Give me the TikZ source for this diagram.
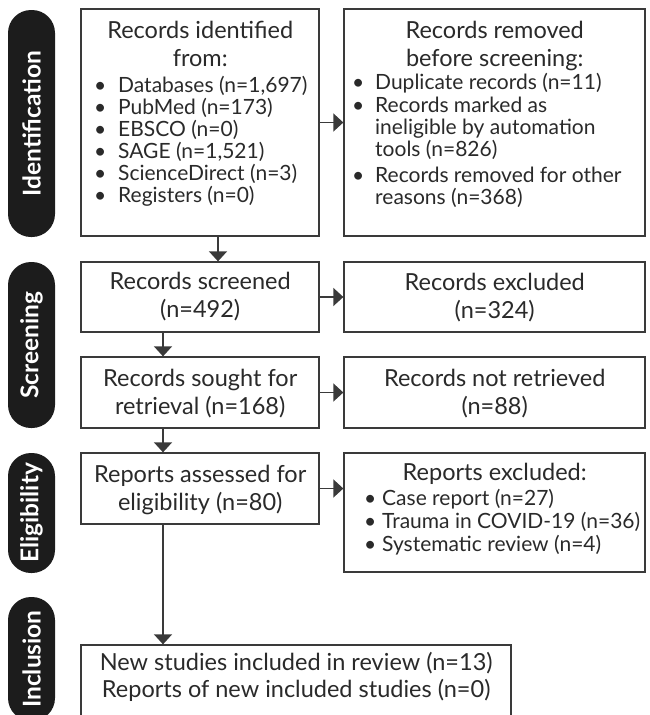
\documentclass[tikz,border=0pt]{standalone}
\usepackage{fontspec}
\setmainfont{Lato}
\usetikzlibrary{arrows.meta}
\definecolor{txt}{HTML}{2A2A2A}
\definecolor{edge}{HTML}{3A3A3A}
\definecolor{pillc}{HTML}{1C1C1C}
\newlength\bulc
\newlength\bulw
\newcommand\bul[1]{\noindent\hangindent=\bulw\hangafter=1\makebox[\bulw][l]{\hspace{\bulc}\makebox[0pt][c]{•}}#1\par}
\tikzset{
  box/.style={draw=edge, line width=1.3pt, fill=white, inner sep=0pt},
  pill/.style={fill=pillc, rounded corners=23pt, rotate=90, text=white, inner sep=0pt,
    minimum height=47pt, font=\bfseries\fontsize{24.5}{26}\selectfont},
  txtnode/.style={inner sep=0pt, text=txt, anchor=base west},
  arr/.style={draw=edge, line width=1.3pt, -{Triangle[width=18pt,length=10pt]}}
}
\newcommand\fs{\fontsize{21}{22}\selectfont}
\newcommand\tfs{\fontsize{23.5}{28.5}\selectfont}
\begin{document}
\begin{tikzpicture}[x=1pt,y=-1pt]
\useasboundingbox (0,0) rectangle (649,715);
\clip (0,0) rectangle (649,715);
% side labels
\node[pill, minimum width=227pt] (p1) at (31.5,123.5) {Identification};
\node[pill, minimum width=166pt] (p2) at (31.5,345) {Screening};
\node[pill, minimum width=120pt] (p3) at (31.5,513) {Eligibility};
\node[pill, minimum width=124pt] (p4) at (31.5,659) {Inclusion};
% boxes
\node[box, minimum width=238pt, minimum height=227pt] (b1) at (200,122.5) {};
\node[box, minimum width=301pt, minimum height=227pt] (b2) at (494.5,122.5) {};
\node[box, minimum width=238pt, minimum height=70pt] (s1) at (200,297) {};
\node[box, minimum width=301pt, minimum height=70pt] (s2) at (494.5,297) {};
\node[box, minimum width=238pt, minimum height=71pt] (r1) at (200,392.5) {};
\node[box, minimum width=301pt, minimum height=71pt] (r2) at (494.5,392.5) {};
\node[box, minimum width=238pt, minimum height=71pt] (e1) at (200,488.5) {};
\node[box, minimum width=301pt, minimum height=119pt] (e2) at (494.5,512.5) {};
\node[box, minimum width=430pt, minimum height=80pt] (n1) at (296,685) {};
% texts
\node[txtnode] (t1) at (81,38) {\parbox[t]{238pt}{{\tfs\centering Records identified\\ from:\par}\fs\vspace{4pt}\raggedright
  \setlength\bulc{19pt}\setlength\bulw{37pt}%
  \bul{Databases (n=1,697)}\bul{PubMed (n=173)}\bul{EBSCO (n=0)}\bul{SAGE (n=1,521)}\bul{ScienceDirect (n=3)}\bul{Registers (n=0)}}};
\node[txtnode] (t2) at (344,38) {\parbox[t]{301pt}{{\tfs\centering Records removed\\ before screening:\par}\fs\vspace{1pt}\raggedright
  \setlength\bulc{14pt}\setlength\bulw{31pt}%
  \bul{Duplicate records (n=11)}\vspace{1pt}\bul{Records marked as\newline ineligible by automation\newline tools (n=826)}\vspace{4pt}\bul{Records removed for other\newline reasons (n=368)}}};
\node[txtnode] (t3) at (81,289) {\parbox[t]{238pt}{\tfs\centering Records screened\\ (n=492)}};
\node[txtnode] (t4) at (344,290) {\parbox[t]{301pt}{\tfs\centering Records excluded\\ (n=324)}};
\node[txtnode] (t5) at (81,386) {\parbox[t]{238pt}{\tfs\centering Records sought for\\ retrieval (n=168)}};
\node[txtnode] (t6) at (344,386) {\parbox[t]{301pt}{\tfs\centering Records not retrieved\\ (n=88)}};
\node[txtnode] (t7) at (81,482) {\parbox[t]{238pt}{\tfs\centering Reports assessed for\\ eligibility (n=80)}};
\node[txtnode] (t8) at (344,480) {\parbox[t]{301pt}{{\tfs\centering Reports excluded:\par}\fs\vspace{3pt}\raggedright
  \setlength\bulc{26pt}\setlength\bulw{38pt}%
  \bul{Case report (n=27)}\vspace{1pt}\bul{Trauma in COVID-19 (n=36)}\vspace{1pt}\bul{Systematic review (n=4)}}};
\node[txtnode] (t9) at (81,670) {\parbox[t]{430pt}{\tfs\centering New studies included in review (n=13)\\[-1pt] Reports of new included studies (n=0)}};
% connectors
\draw[arr] (b1.east) -- (b2.west);
\draw[arr] ([xshift=18pt]b1.south) -- ([xshift=18pt]s1.north);
\draw[arr] (s1.east) -- (s2.west);
\draw[arr] ([xshift=-37pt]s1.south) -- ([xshift=-37pt]r1.north);
\draw[arr] (r1.east) -- (r2.west);
\draw[arr] ([xshift=-37pt]r1.south) -- ([xshift=-37pt]e1.north);
\draw[arr] (e1.east) -- (e1.east -| e2.west);
\draw[arr] ([xshift=-37pt]e1.south) -- ([xshift=-37pt]e1.south |- n1.north);
\end{tikzpicture}
\end{document}
